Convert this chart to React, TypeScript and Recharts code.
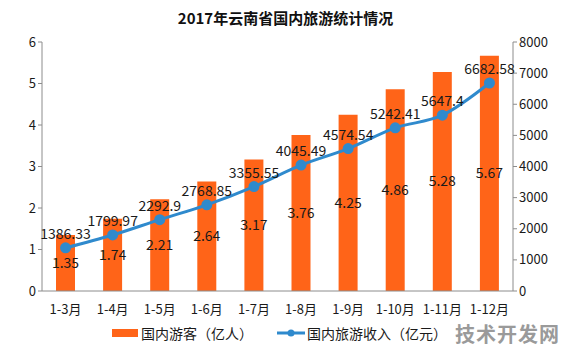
import React from "react";
import {
  ComposedChart,
  Bar,
  Line,
  XAxis,
  YAxis,
  LabelList,
  Legend,
} from "recharts";

const months = ["1-3月", "1-4月", "1-5月", "1-6月", "1-7月", "1-8月", "1-9月", "1-10月", "1-11月", "1-12月"];
const visitors = [1.35, 1.74, 2.21, 2.64, 3.17, 3.76, 4.25, 4.86, 5.28, 5.67];
const income = [1386.33, 1799.97, 2292.9, 2768.85, 3355.55, 4045.49, 4574.54, 5242.41, 5647.4, 6682.58];
const leftTicks = [0, 1, 2, 3, 4, 5, 6];
const rightTicks = [0, 1000, 2000, 3000, 4000, 5000, 6000, 7000, 8000];
// category boundaries, used only for the tick marks between months
const boundaryTicks = [0, 1, 2, 3, 4, 5, 6, 7, 8, 9, 10];

const data = months.map((m, i) => ({ month: m, visitors: visitors[i], income: income[i] }));

const FONT = "'Noto Sans CJK SC', 'DejaVu Sans', sans-serif";
const BAR = "#ff6418";
const LINE = "#2f8acd";
const AXIS = "#8c8c8c";
const tick = { fill: "#1a1a1a", fontSize: 13, fontFamily: FONT };

const LegendContent = () => (
  <div style={{ display: "flex", alignItems: "center", fontFamily: FONT, fontSize: 14, color: "#1a1a1a", height: 20 }}>
    <div style={{ width: 112 }} />
    <div style={{ width: 26, height: 8, background: BAR, marginRight: 3 }} />
    <span>国内游客（亿人）</span>
    <div style={{ width: 24 }} />
    <svg width={28} height={10} style={{ marginRight: 2 }}>
      <line x1={0} y1={5} x2={28} y2={5} stroke={LINE} strokeWidth={3} />
      <circle cx={14} cy={5} r={3.5} fill={LINE} />
    </svg>
    <span>国内旅游收入（亿元）</span>
    <span style={{ marginLeft: 8, color: "#9a9a9a", fontWeight: 700, fontSize: 20, letterSpacing: 1 }}>技术开发网</span>
  </div>
);

export default function App() {
  return (
    <div style={{ position: "absolute", left: 0, top: 0, width: 571, height: 356, background: "#fff" }}>
      <div
        style={{
          position: "absolute",
          top: 7,
          left: 0,
          width: 571,
          textAlign: "center",
          fontFamily: FONT,
          fontWeight: 700,
          fontSize: 15,
          color: "#111",
        }}
      >
        2017年云南省国内旅游统计情况
      </div>
      <ComposedChart
        width={571}
        height={356}
        data={data}
        margin={{ top: 42, right: 0, bottom: 9, left: 0 }}
      >
        <XAxis
          xAxisId="bounds"
          type="number"
          domain={[0, 10]}
          ticks={boundaryTicks}
          tickFormatter={() => ""}
          axisLine={false}
          tickLine={{ stroke: AXIS }}
          tickSize={5}
          height={0}
        />
        <XAxis
          dataKey="month"
          interval={0}
          tick={tick}
          tickLine={false}
          axisLine={{ stroke: AXIS }}
          tickMargin={8}
          height={32}
        />
        <YAxis
          yAxisId="left"
          domain={[0, 6]}
          ticks={leftTicks}
          tick={tick}
          axisLine={{ stroke: AXIS }}
          tickLine={{ stroke: AXIS }}
          tickSize={4}
          width={42}
        />
        <YAxis
          yAxisId="right"
          orientation="right"
          domain={[0, 8000]}
          ticks={rightTicks}
          tick={{ ...tick, textAnchor: "start" }}
          axisLine={{ stroke: AXIS }}
          tickLine={{ stroke: AXIS }}
          tickSize={4}
          width={58}
        />
        <Legend verticalAlign="bottom" height={24} content={<LegendContent />} />
        <Bar yAxisId="left" dataKey="visitors" fill={BAR} barSize={19} isAnimationActive={false}>
          <LabelList dataKey="visitors" position="center" style={{ fill: "#1a1a1a", fontSize: 14, fontFamily: FONT }} />
        </Bar>
        <Line
          yAxisId="right"
          type="monotone"
          dataKey="income"
          stroke={LINE}
          strokeWidth={3}
          dot={{ r: 4, fill: LINE, stroke: LINE }}
          isAnimationActive={false}
        >
          <LabelList dataKey="income" position="top" offset={9} style={{ fill: "#1a1a1a", fontSize: 14, fontFamily: FONT }} />
        </Line>
      </ComposedChart>
    </div>
  );
}
